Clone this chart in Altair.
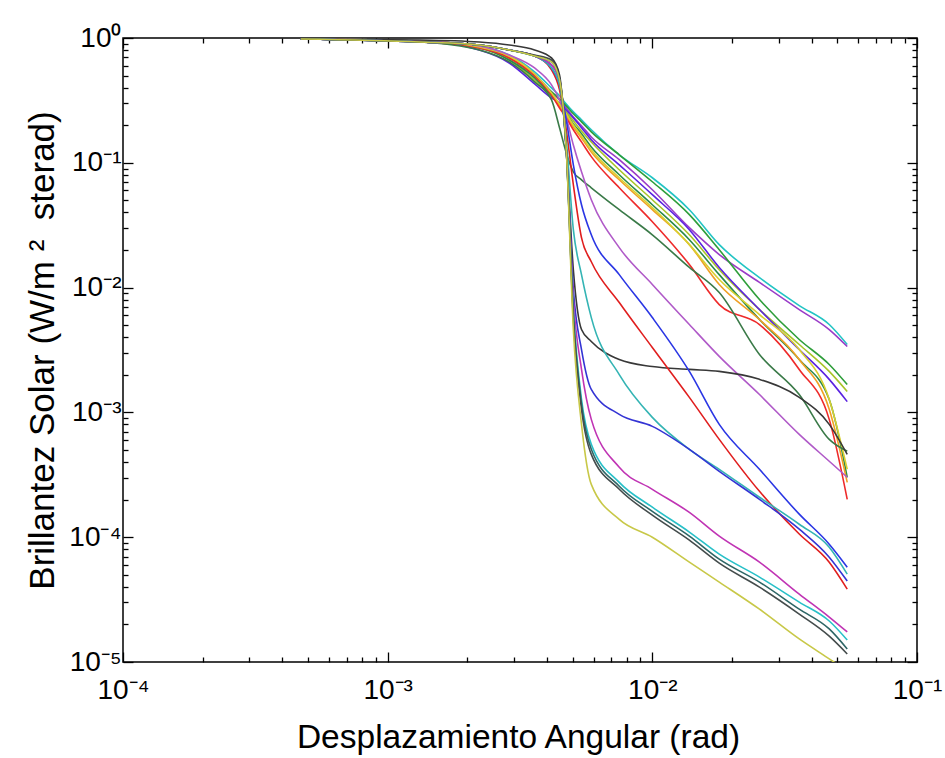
import altair as alt
import pandas as pd

# Angular displacement grid (rad)
X = [4.7e-4, 1.32e-3, 2.22e-3, 2.88e-3, 3.59e-3, 4.16e-3, 4.46e-3, 4.73e-3, 5.03e-3,
     5.40e-3, 5.88e-3, 7.5e-3, 1.0e-2, 1.38e-2, 1.79e-2, 2.54e-2, 3.59e-2, 4.66e-2, 5.45e-2]

# Solar brightness curves
U1_cyan = [0.982, 0.946, 0.863, 0.731, 0.535, 0.398, 0.344, 0.296, 0.256, 0.221, 0.184, 0.116,
           0.0759, 0.0421, 0.0221, 0.0120, 0.00718, 0.00506, 0.00350]
U2_purple = [0.982, 0.946, 0.863, 0.718, 0.515, 0.370, 0.319, 0.275, 0.233, 0.198, 0.161, 0.106,
             0.0608, 0.0302, 0.0184, 0.0110, 0.00667, 0.00461, 0.00337]
U3_green = [0.982, 0.946, 0.847, 0.692, 0.497, 0.370, 0.325, 0.286, 0.247, 0.213, 0.177, 0.116,
            0.0705, 0.0384, 0.0201, 0.00802, 0.00384, 0.00242, 0.00167]
U4_olive = [0.982, 0.946, 0.832, 0.667, 0.461, 0.344, 0.296, 0.256, 0.217, 0.180, 0.147, 0.0879,
            0.0506, 0.0265, 0.0139, 0.00667, 0.00350, 0.00213, 0.00147]
U5_violet = [0.982, 0.946, 0.802, 0.631, 0.429, 0.331, 0.302, 0.265, 0.229, 0.191, 0.153, 0.0964,
             0.0555, 0.0291, 0.0145, 0.00667, 0.00319, 0.00184, 0.00122]
U6_green = [0.982, 0.929, 0.832, 0.667, 0.479, 0.344, 0.286, 0.247, 0.205, 0.171, 0.134, 0.0802,
            0.0461, 0.0242, 0.0127, 0.00555, 0.00265, 0.00127, 0.000302]
U7_orange = [0.982, 0.946, 0.863, 0.705, 0.506, 0.356, 0.286, 0.238, 0.194, 0.158, 0.122, 0.0731,
             0.0421, 0.0221, 0.0106, 0.00555, 0.00265, 0.00106, 0.000275]
U8_red = [0.982, 0.929, 0.832, 0.692, 0.497, 0.350, 0.275, 0.229, 0.184, 0.147, 0.112, 0.0631,
          0.0337, 0.0153, 0.00731, 0.00506, 0.00221, 0.000879, 0.000201]
U9_yellow = [0.982, 0.946, 0.847, 0.718, 0.515, 0.363, 0.296, 0.247, 0.201, 0.164, 0.127, 0.0759,
             0.0437, 0.0221, 0.0116, 0.00608, 0.00319, 0.00127, 0.000350]
DG_darkgreen = [0.982, 0.929, 0.802, 0.643, 0.445, 0.319, 0.191, 0.120, 0.0847, 0.0731, 0.0631, 0.0421,
                0.0265, 0.0145, 0.00912, 0.00291, 0.00139, 0.000608, 0.000488]
M1_lilac = [0.982, 0.946, 0.863, 0.731, 0.575, 0.421, 0.319, 0.229, 0.139, 0.0847, 0.0506, 0.0209,
            0.0106, 0.00506, 0.00281, 0.00139, 0.000667, 0.000406, 0.000302]
K_black = [0.982, 0.964, 0.929, 0.879, 0.802, 0.692, 0.506, 0.127, 0.0139, 0.00461, 0.00370, 0.00265,
           0.00233, 0.00221, 0.00213, 0.00184, 0.00132, 0.000802, 0.000461]
R_red = [0.982, 0.929, 0.879, 0.802, 0.718, 0.555, 0.384, 0.184, 0.0667, 0.0251, 0.0161, 0.00759,
         0.00331, 0.00132, 0.000608, 0.000233, 0.000106, 0.0000631, 0.0000384]
B1_blue = [0.982, 0.929, 0.879, 0.802, 0.718, 0.575, 0.421, 0.221, 0.0964, 0.0461, 0.0265, 0.0127,
           0.00575, 0.00213, 0.000802, 0.000350, 0.000153, 0.0000879, 0.0000575]
C1_teal = [0.982, 0.929, 0.879, 0.802, 0.718, 0.575, 0.421, 0.153, 0.0291, 0.0127, 0.00575, 0.00201,
           0.000912, 0.000506, 0.000350, 0.000209, 0.000127, 0.0000832, 0.0000506]
B2_blue = [0.982, 0.929, 0.879, 0.802, 0.718, 0.608, 0.461, 0.127, 0.00964, 0.00319, 0.00153, 0.000964,
           0.000773, 0.000506, 0.000337, 0.000201, 0.000116, 0.0000692, 0.0000445]
M2_magenta = [0.982, 0.929, 0.879, 0.802, 0.718, 0.608, 0.461, 0.127, 0.00802, 0.00221, 0.000879, 0.000363,
              0.000242, 0.000158, 0.000102, 0.0000631, 0.0000350, 0.0000229, 0.0000174]
C2_cyan = [0.982, 0.929, 0.879, 0.802, 0.718, 0.643, 0.461, 0.127, 0.00667, 0.00127, 0.000555, 0.000275,
           0.000174, 0.000110, 0.0000731, 0.0000479, 0.0000302, 0.0000213, 0.0000150]
D2_darkteal = [0.982, 0.929, 0.879, 0.802, 0.718, 0.643, 0.461, 0.127, 0.00608, 0.00116, 0.000506, 0.000256,
               0.000161, 0.000102, 0.0000667, 0.0000437, 0.0000265, 0.0000184, 0.0000127]
D3_darkgray = [0.982, 0.929, 0.879, 0.802, 0.731, 0.667, 0.479, 0.127, 0.00555, 0.00106, 0.000461, 0.000242,
               0.000150, 0.0000946, 0.0000619, 0.0000398, 0.0000242, 0.0000161, 0.0000116]
Y_yellow = [0.982, 0.929, 0.879, 0.802, 0.718, 0.643, 0.461, 0.127, 0.00461, 0.000802, 0.000265, 0.000139,
            0.000100, 0.0000631, 0.0000437, 0.0000265, 0.0000153, 0.0000106, 0.0000085]

SERIES = {
    "U1": U1_cyan, "U2": U2_purple, "U3": U3_green, "U4": U4_olive, "U5": U5_violet,
    "U6": U6_green, "U7": U7_orange, "U8": U8_red, "U9": U9_yellow, "DG": DG_darkgreen,
    "M1": M1_lilac, "K": K_black, "R": R_red, "B1": B1_blue, "C1": C1_teal, "B2": B2_blue,
    "M2": M2_magenta, "C2": C2_cyan, "D2": D2_darkteal, "D3": D3_darkgray, "Y": Y_yellow,
}
COLORS = {
    "U1": "#22c4c4", "U2": "#9a3cc8", "U3": "#2e9e3a", "U4": "#a8c428", "U5": "#5a22e0",
    "U6": "#2a8a4a", "U7": "#f0a024", "U8": "#ee2a2a", "U9": "#d8d030", "DG": "#3a7a48",
    "M1": "#b05ac8", "K": "#383838", "R": "#e01e1e", "B1": "#2a36e4", "C1": "#34b4b4",
    "B2": "#3434d4", "M2": "#c034b4", "C2": "#28c0c8", "D2": "#2e6666", "D3": "#444c4c",
    "Y": "#c8c848",
}
WIDTHS = {k: 1.6 for k in SERIES}
WIDTHS["R"] = 2.6
WIDTHS["U5"] = 2.4

X_TICKS = [1e-4, 1e-3, 1e-2, 1e-1]
X_LABELS = ["10⁻⁴", "10⁻³", "10⁻²", "10⁻¹"]
Y_TICKS = [1e-5, 1e-4, 1e-3, 1e-2, 1e-1, 1.0]
Y_LABELS = ["10⁻⁵", "10⁻⁴", "10⁻³", "10⁻²", "10⁻¹", "10⁰"]
X_MINOR = [m * 10.0 ** e for e in (-4, -3, -2) for m in range(2, 10)]
Y_MINOR = [m * 10.0 ** e for e in (-5, -4, -3, -2, -1) for m in range(2, 10)]

rows = []
for name, vals in SERIES.items():
    for i, (xv, yv) in enumerate(zip(X, vals)):
        rows.append({"series": name, "x": xv, "y": yv, "i": i})
df = pd.DataFrame(rows)

W, H = 794, 624
FONT = "Liberation Sans"
MAJ, MIN = 10, 5
xs = alt.Scale(type="log", domain=[1e-4, 1e-1], nice=False)
ys = alt.Scale(type="log", domain=[1e-5, 1.0], nice=False)

x_expr = "[" + ",".join("'%s'" % s for s in X_LABELS) + "][round(log(datum.value)/LN10) + 4]"
y_expr = "[" + ",".join("'%s'" % s for s in Y_LABELS) + "][round(log(datum.value)/LN10) + 5]"

common = dict(domain=False, grid=False, tickColor="black", tickWidth=1.3, labelFontSize=28,
              labelFont=FONT, labelColor="black", labelFlush=False, labelOverlap=False,
              labelBound=False)

ax_bottom = alt.Axis(orient="bottom", values=X_TICKS, labelExpr=x_expr, tickSize=MAJ, offset=-MAJ,
                     labelPadding=14, title="Desplazamiento Angular (rad)", titleFont=FONT,
                     titleFontSize=33.5, titleFontWeight="normal", titleColor="black",
                     titleX=W / 2 - 2, titleY=85, titleBaseline="middle", **common)
ax_left = alt.Axis(orient="left", values=Y_TICKS, labelExpr=y_expr, tickSize=MAJ, offset=-MAJ,
                   labelPadding=2, title="Brillantez Solar (W/m\u00a0²\u00a0 sterad)", titleFont=FONT,
                   titleFontSize=35, titleFontWeight="normal", titleColor="black",
                   titleX=-91, titleBaseline="middle", **common)

def plain_axis(orient, values, size):
    return alt.Axis(orient=orient, values=values, tickSize=size, offset=-size, labels=False,
                    domain=False, grid=False, tickColor="black", tickWidth=1.3, title="")

lines = alt.Chart(df).mark_line(interpolate="monotone", clip=True).encode(
    x=alt.X("x:Q", scale=xs, axis=ax_bottom),
    y=alt.Y("y:Q", scale=ys, axis=ax_left),
    color=alt.Color("series:N", scale=alt.Scale(domain=list(COLORS), range=list(COLORS.values())), legend=None),
    strokeWidth=alt.StrokeWidth("series:N", scale=alt.Scale(domain=list(WIDTHS), range=list(WIDTHS.values())), legend=None),
    detail="series:N",
    order="i:Q",
)

def ghost(xa, ya):
    return alt.Chart(df).mark_line(opacity=0, clip=True).encode(
        x=alt.X("x:Q", scale=xs, axis=xa),
        y=alt.Y("y:Q", scale=ys, axis=ya),
        detail="series:N",
        order="i:Q",
    )

layer2 = ghost(plain_axis("bottom", X_MINOR, MIN), plain_axis("left", Y_MINOR, MIN))
layer3 = ghost(plain_axis("top", X_TICKS, MAJ), plain_axis("right", Y_TICKS, MAJ))
layer4 = ghost(plain_axis("top", X_MINOR, MIN), plain_axis("right", Y_MINOR, MIN))

chart = alt.layer(lines, layer2, layer3, layer4).resolve_axis(
    x="independent", y="independent"
).properties(
    width=W, height=H,
    autosize=alt.AutoSizeParams(type="none"),
    padding={"left": 123, "top": 38, "right": 28, "bottom": 96},
    background="white",
).configure_view(stroke="black", strokeWidth=1.5)

chart.save("out.html", embed_options={"renderer": "svg", "actions": False})
